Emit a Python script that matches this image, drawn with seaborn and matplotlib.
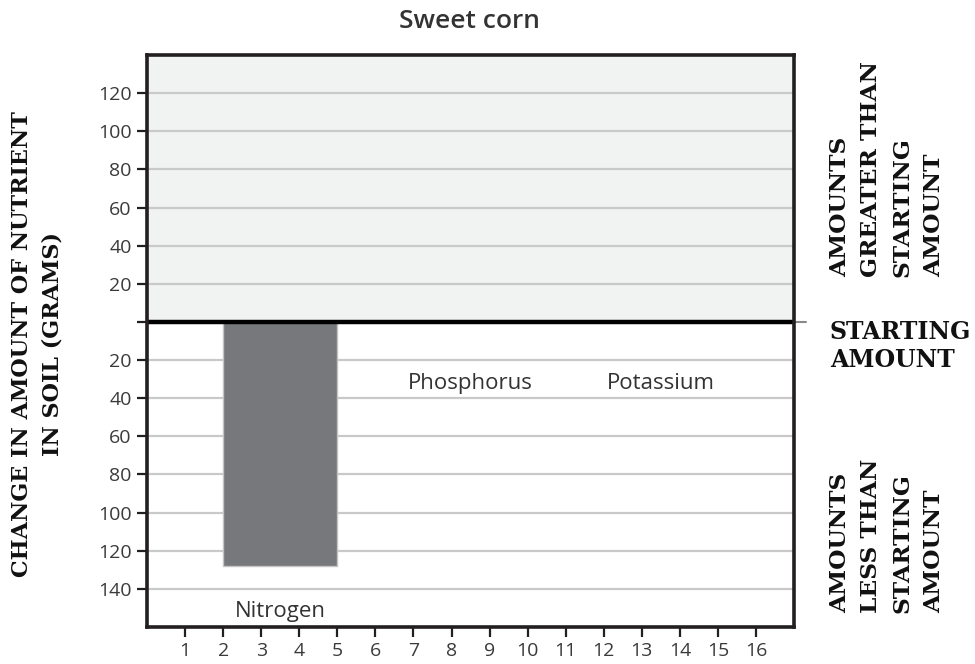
import matplotlib
matplotlib.use("Agg")
import matplotlib.pyplot as plt
import seaborn as sns

# data
nutrients = ["Nitrogen", "Phosphorus", "Potassium"]
bar_start = [2, 7, 12]
bar_stop = [5, 10, 15]
change = [-128, 0, 0]   # grams, negative = less than starting amount

x_ticks = list(range(1, 17))
y_ticks = [-140, -120, -100, -80, -60, -40, -20, 0, 20, 40, 60, 80, 100, 120]

sns.set_theme(style="white")
plt.rcParams["font.family"] = ["Open Sans", "DejaVu Sans"]

fig = plt.figure(figsize=(9.75, 6.64), dpi=100)
ax = fig.add_axes([0.1508, 0.0557, 0.6636, 0.8615])

centers = [(a + b) / 2 for a, b in zip(bar_start, bar_stop)]
ax.set_xlim(0, 17)
ax.set_ylim(-160, 140)

# shaded "greater than" region
ax.axhspan(0, 140, color="#f1f2f2", zorder=0)

for t in y_ticks:
    if t != 0:
        ax.axhline(t, color="#c9c9c9", lw=1.6, zorder=1)

sns.barplot(x=centers, y=change, native_scale=True, width=0.6,
            color="#77787b", saturation=1, edgecolor="#c4c4c4", linewidth=1,
            errorbar=None, ax=ax, zorder=2)

ax.axhline(0, color="black", lw=3.2, zorder=4)
ax.plot([1.0, 1.018], [0, 0], color="#8a8a8a", lw=1.5,
        transform=ax.get_yaxis_transform(), clip_on=False)

for name, c, v in zip(nutrients, centers, change):
    ly = v - 27 if v < 0 else -35
    ax.text(c, ly, name, ha="center", va="baseline", fontsize=16, color="#333333")

ax.set_xlim(0, 17)
ax.set_ylim(-160, 140)
ax.set_xticks(x_ticks)
ax.set_xticklabels([str(t) for t in x_ticks])
ax.set_yticks(y_ticks)
ax.set_yticklabels(["" if t == 0 else str(abs(t)) for t in y_ticks])
ax.tick_params(axis="both", which="both", direction="out", length=7, width=1.6,
               color="#231f20", labelsize=14, labelcolor="#3a3a3a", pad=4,
               bottom=True, left=True)
ax.set_xlabel("")
ax.set_ylabel("")

for s in ax.spines.values():
    s.set_color("#231f20")
    s.set_linewidth(2.6)
    s.set_zorder(5)

fig.text(0.481, 0.967, "Sweet corn", ha="center", va="center", fontsize=19,
         fontweight="semibold", color="#333333")

serif = dict(family="DejaVu Serif", fontweight="bold", color="#111111")
fig.text(0.0385, 0.482, "CHANGE IN AMOUNT OF NUTRIENT\nIN SOIL (GRAMS)", rotation=90,
         ha="center", va="center", multialignment="center", linespacing=1.5,
         fontsize=16, **serif)
fig.text(0.850, 1 - 277 / 664, "AMOUNTS\nGREATER THAN\nSTARTING\nAMOUNT", rotation=90,
         ha="left", va="bottom", multialignment="left", linespacing=1.55,
         fontsize=16.8, **serif)
fig.text(0.851, 1 - 346 / 664, "STARTING\nAMOUNT", ha="left", va="center",
         multialignment="left", linespacing=1.25, fontsize=17, **serif)
fig.text(0.850, 1 - 613 / 664, "AMOUNTS\nLESS THAN\nSTARTING\nAMOUNT", rotation=90,
         ha="left", va="bottom", multialignment="left", linespacing=1.55,
         fontsize=16.8, **serif)

fig.savefig("out.png", dpi=100)
